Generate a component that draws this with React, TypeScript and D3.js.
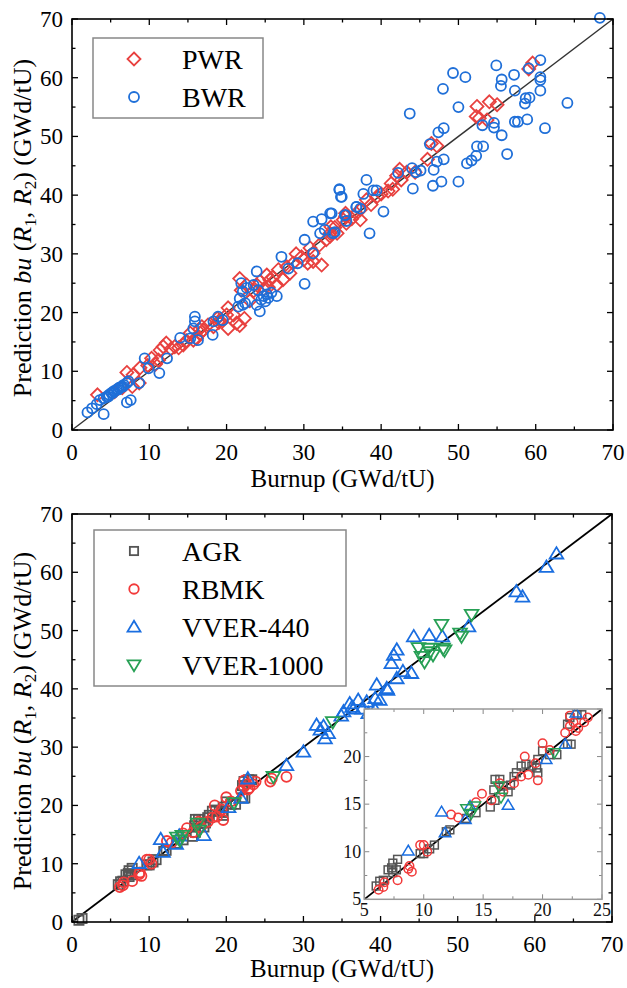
import React from "react";
import * as d3 from "d3";

// ---------- DATA ----------
const pwrX = [59.6,59.1,54.0,55.0,52.4,52.3,52.7,53.7,46.5,47.2,46.0,42.4,42.0,41.3,40.9,42.6,44.4,38.1,37.3,36.8,35.4,35.1,33.5,33.4,
  3.3,7.1,7.9,8.8,7.8,8.7,10.3,11.2,11.4,11.8,12.2,13.3,14.4,15.3,15.7,16.1,16.6,17.0,17.6,18.3,19.1,20.0,20.2,21.3,20.9,20.2,21.7,21.9,22.6,24.3,25.6,26.7,26.5,27.3,28.6,29.7,30.5,31.2,32.3,32.9,33.4,34.3,35.4,35.5,37.3,31.2,28.2,25.2,23.5,24.8,
  21.7,22.3,19.0,16.8,13.8,9.8,12.8,18.8,29.0,30.0,27.8,26.0,23.0,16.5,25.4,24.0,40.0,43.3,39.5,38.7,36.2,34.0,41.5,30.8,32.0,14.8,10.8,6.5,5.5];
const pwrY = [62.5,61.5,55.9,55.4,55.1,53.4,53.1,52.8,48.8,48.4,46.1,44.4,43.3,42.0,40.7,42.6,43.9,39.2,35.8,36.9,36.9,35.8,34.6,33.5,
  6.0,9.8,9.4,10.6,7.4,8.0,12.2,11.9,13.6,14.2,14.8,14.2,14.5,16.5,15.3,15.6,16.5,17.0,17.9,17.6,18.7,19.6,17.3,18.2,19.6,20.8,25.8,23.8,24.7,25.3,25.6,27.3,24.7,25.6,28.4,29.5,28.4,28.7,28.1,32.4,33.0,33.5,36.4,35.2,37.5,30.1,26.7,26.4,23.7,24.0,
  17.8,19.0,18.3,17.6,14.0,11.0,13.8,19.0,30.0,29.0,27.8,26.0,22.0,17.2,24.3,24.6,40.2,43.9,39.8,38.4,36.0,34.5,41.0,31.0,31.5,15.2,11.2,7.2,6.5];

const bwrX = [68.3,60.6,54.9,49.3,50.9,57.2,55.6,55.5,60.6,60.6,59.1,48.0,57.3,60.6,58.7,59.2,58.6,64.1,43.7,50.0,53.1,54.6,54.6,55.6,57.3,57.7,58.9,61.2,52.4,53.2,56.3,48.1,47.4,46.3,48.1,47.2,46.8,51.1,51.7,52.3,50.0,47.8,46.7,44.1,44.0,45.1,44.5,42.2,40.3,38.5,38.1,37.7,34.6,34.9,39.0,39.4,36.8,37.3,35.3,33.6,33.8,35.5,
  2.0,2.6,3.2,4.1,3.6,4.1,4.5,4.8,5.1,5.4,5.8,6.1,6.4,6.7,7.1,7.3,4.7,5.3,6.0,6.6,7.1,7.6,8.7,9.4,9.9,11.3,12.3,14.0,15.3,15.9,15.9,15.7,16.3,18.2,18.3,18.9,19.5,21.5,22.1,21.9,22.1,21.7,22.6,22.4,23.9,23.5,24.1,24.3,23.9,24.5,24.8,25.2,25.4,25.8,26.5,25.0,27.1,28.0,29.2,30.1,30.1,31.2,32.3,33.4,34.6,34.8,32.1,32.7,34.0,35.4,36.8,31.2];
const bwrY = [70.2,63.0,62.1,60.8,60.1,60.5,59.7,58.6,60.1,59.6,61.6,58.1,57.8,57.8,56.5,56.6,55.6,55.7,53.9,55.0,51.9,52.3,51.5,50.2,52.5,52.5,52.9,51.4,48.3,48.3,47.0,51.4,50.7,48.7,46.1,45.7,44.3,45.4,45.9,46.7,42.3,42.3,41.6,41.1,44.6,44.2,43.9,43.8,37.2,33.5,42.6,40.2,40.9,39.7,40.8,40.8,38.0,37.7,36.6,36.9,33.5,35.6,
  3.0,3.7,4.4,2.7,5.1,5.4,5.7,6.0,6.3,6.6,6.9,7.2,7.4,7.7,8.0,8.3,5.7,6.3,6.9,7.4,4.7,5.1,8.0,12.2,10.5,9.7,12.2,15.7,15.6,19.3,18.5,17.3,15.3,16.2,18.5,19.3,18.7,21.0,21.3,25.0,23.6,22.4,24.2,21.6,27.0,24.7,23.8,20.2,21.3,22.2,22.8,23.1,22.5,23.4,22.8,21.9,29.5,27.5,28.4,24.9,32.4,35.5,35.9,36.9,41.0,39.7,33.5,34.1,33.7,36.6,38.0,30.1];

const agrX = [0.9,1.3,6.0,6.3,6.6,7.0,7.3,7.4,7.8,7.7,7.4,9.7,10.0,10.5,10.9,11.9,12.2,13.6,14.4,15.6,16.0,15.9,16.0,16.4,16.7,17.1,17.3,17.6,17.8,18.2,18.6,19.1,19.5,19.6,19.6,20.0,20.6,21.2,22.1,22.4,22.1,22.3,23.3,22.9];
const agrY = [0.3,0.6,6.4,6.9,7.0,8.1,8.3,8.8,9.2,8.1,7.8,9.8,9.8,10.3,10.7,12.1,12.3,13.5,14.1,14.7,15.4,16.5,17.6,17.6,16.9,16.3,17.0,17.9,18.3,19.0,19.2,19.0,18.8,18.3,19.7,20.6,20.2,20.2,21.3,21.3,23.4,24.1,24.4,24.4];

const rbmkX = [6.2,6.6,6.7,7.8,8.7,8.8,9.0,9.7,10.0,10.3,12.3,12.9,14.4,14.9,15.7,16.4,16.7,17.6,18.2,18.5,18.8,19.4,19.6,20.0,20.6,21.9,22.3,22.3,22.6,23.0,23.5,23.8,22.8,25.7,25.9,27.8];
const rbmkY = [6.0,6.3,6.8,7.0,8.2,8.5,7.9,10.7,10.7,10.0,13.9,13.6,15.2,16.1,15.4,17.2,16.3,17.2,17.9,20.0,18.1,19.3,17.5,21.4,20.7,22.5,23.2,24.3,23.6,23.0,23.6,24.1,22.7,24.1,24.6,24.9];

const v440X = [8.7,11.5,11.8,13.5,13.9,17.1,20.3,21.9,22.8,27.8,30.0,31.7,32.2,32.8,33.2,32.6,34.9,36.3,35.2,36.0,36.5,37.1,37.6,38.2,38.4,39.3,39.9,39.3,39.5,40.8,40.9,41.4,41.7,42.1,42.9,42.1,44.0,44.3,46.3,48.0,51.4,57.6,58.4,61.5,62.8];
const v440Y = [10.1,14.2,12.0,13.4,14.8,14.9,19.7,21.3,24.6,26.9,29.2,33.8,33.0,31.5,32.4,33.6,35.4,36.9,36.1,37.5,36.6,38.1,36.6,37.8,35.8,38.4,38.1,36.4,40.7,40.1,39.8,44.4,45.8,46.7,43.0,41.8,42.7,49.0,49.2,49.0,50.7,56.7,55.8,60.9,63.2];

const v1000X = [13.6,14.0,14.3,16.3,16.5,21.0,26.1,33.8,44.9,45.3,45.7,46.4,46.2,46.8,48.1,47.9,48.3,50.3,50.5,51.8];
const v1000Y = [14.5,14.0,14.8,16.9,15.7,20.4,24.9,34.3,47.0,45.5,44.6,46.3,46.9,45.8,46.9,51.0,46.6,49.5,49.0,52.7];

const mainTicks = [0, 10, 20, 30, 40, 50, 60, 70];
const mainMinor = [5, 15, 25, 35, 45, 55, 65];
const insetTicks = [5, 10, 15, 20, 25];
const insetMinor = [7.5, 12.5, 17.5, 22.5];

const topLegend = ["PWR", "BWR"];
const bottomLegend = ["AGR", "RBMK", "VVER-440", "VVER-1000"];

// ---------- STYLE ----------
const FONT = "'Liberation Serif', 'Times New Roman', serif";
const C_PWR = "#e8413f";
const C_BWR = "#1f6fd8";
const C_AGR = "#555555";
const C_RBMK = "#f23a3a";
const C_440 = "#1a6ee0";
const C_1000 = "#27a055";

type Shape = "diamond" | "circle" | "square" | "up" | "down";

function Marker({ shape, x, y, color, s = 1, sw = 1.8 }: { shape: Shape; x: number; y: number; color: string; s?: number; sw?: number }) {
  const common = { fill: "none", stroke: color, strokeWidth: sw } as any;
  if (shape === "circle") return <circle cx={x} cy={y} r={5 * s} {...common} />;
  if (shape === "square") {
    const h = 4.6 * s;
    return <rect x={x - h} y={y - h} width={2 * h} height={2 * h} {...common} />;
  }
  if (shape === "diamond") {
    const h = 6.5 * s;
    return <path d={`M${x},${y - h}L${x + h},${y}L${x},${y + h}L${x - h},${y}Z`} {...common} />;
  }
  if (shape === "up") {
    const h = 6.5 * s;
    return <path d={`M${x},${y - h}L${x + h * 1.05},${y + h * 0.75}L${x - h * 1.05},${y + h * 0.75}Z`} {...common} />;
  }
  const h = 6.5 * s;
  return <path d={`M${x},${y + h}L${x + h * 1.05},${y - h * 0.75}L${x - h * 1.05},${y - h * 0.75}Z`} {...common} />;
}

function MainFrame({ x, y, labelSize = 23 }: { x: d3.ScaleLinear<number, number>; y: d3.ScaleLinear<number, number>; labelSize?: number }) {
  const [x0, x1] = x.range();
  const [y0, y1] = y.range();
  const maj = 6, mn = 3.5;
  const tickLines: any[] = [];
  mainTicks.concat(mainMinor).forEach((t, i) => {
    const L = mainTicks.includes(t) ? maj : mn;
    tickLines.push(<line key={"b" + i} x1={x(t)} x2={x(t)} y1={y0} y2={y0 - L} />);
    tickLines.push(<line key={"t" + i} x1={x(t)} x2={x(t)} y1={y1} y2={y1 + L} />);
    tickLines.push(<line key={"l" + i} x1={x0} x2={x0 + L} y1={y(t)} y2={y(t)} />);
    tickLines.push(<line key={"r" + i} x1={x1} x2={x1 - L} y1={y(t)} y2={y(t)} />);
  });
  return (
    <g>
      <g stroke="#000" strokeWidth={1.3}>{tickLines}</g>
      <rect x={x0} y={y1} width={x1 - x0} height={y0 - y1} fill="none" stroke="#000" strokeWidth={1.6} />
      <g fontFamily={FONT} fontSize={labelSize} fill="#000">
        {mainTicks.map((t) => (
          <text key={"xl" + t} x={x(t)} y={y0 + 30} textAnchor="middle">{t}</text>
        ))}
        {mainTicks.map((t) => (
          <text key={"yl" + t} x={x0 - 9} y={y(t) + 8} textAnchor="end">{t}</text>
        ))}
      </g>
    </g>
  );
}

function YTitle({ cx, cy }: { cx: number; cy: number }) {
  return (
    <text transform={`translate(${cx},${cy}) rotate(-90)`} textAnchor="middle" fontFamily={FONT} fontSize={26} fill="#000">
      <tspan>Prediction </tspan>
      <tspan fontStyle="italic">bu</tspan>
      <tspan> (</tspan>
      <tspan fontStyle="italic">R</tspan>
      <tspan fontSize={17} dy={5}>1</tspan>
      <tspan dy={-5}>, </tspan>
      <tspan fontStyle="italic">R</tspan>
      <tspan fontSize={17} dy={5}>2</tspan>
      <tspan dy={-5}>) (GWd/tU)</tspan>
    </text>
  );
}

export default function App() {
  // top chart scales
  const xT = d3.scaleLinear().domain([0, 70]).range([72, 613]);
  const yT = d3.scaleLinear().domain([0, 70]).range([430, 19]);
  // bottom chart scales
  const xB = d3.scaleLinear().domain([0, 70]).range([72, 612]);
  const yB = d3.scaleLinear().domain([0, 70]).range([922, 514]);
  // inset scales
  const xI = d3.scaleLinear().domain([5, 25]).range([364.3, 602]);
  const yI = d3.scaleLinear().domain([5, 25]).range([899.3, 709]);

  const line = d3.line<[number, number]>();
  const diag: [number, number][] = [[0, 0], [70, 70]];
  const diagI: [number, number][] = [[5, 5], [25, 25]];

  const series = [
    { name: bottomLegend[0], xs: agrX, ys: agrY, shape: "square" as Shape, color: C_AGR },
    { name: bottomLegend[1], xs: rbmkX, ys: rbmkY, shape: "circle" as Shape, color: C_RBMK },
    { name: bottomLegend[2], xs: v440X, ys: v440Y, shape: "up" as Shape, color: C_440 },
    { name: bottomLegend[3], xs: v1000X, ys: v1000Y, shape: "down" as Shape, color: C_1000 },
  ];

  const [ix0, ix1] = xI.range();
  const [iy0, iy1] = yI.range();
  const insetTickLines: any[] = [];
  insetTicks.concat(insetMinor).forEach((t, i) => {
    const L = insetTicks.includes(t) ? 5 : 3;
    insetTickLines.push(<line key={"ib" + i} x1={xI(t)} x2={xI(t)} y1={iy0} y2={iy0 - L} />);
    insetTickLines.push(<line key={"it" + i} x1={xI(t)} x2={xI(t)} y1={iy1} y2={iy1 + L} />);
    insetTickLines.push(<line key={"il" + i} x1={ix0} x2={ix0 + L} y1={yI(t)} y2={yI(t)} />);
    insetTickLines.push(<line key={"ir" + i} x1={ix1} x2={ix1 - L} y1={yI(t)} y2={yI(t)} />);
  });

  return (
    <svg width={627} height={988} style={{ position: "absolute", left: 0, top: 0, background: "#fff" }}>
      <rect x={0} y={0} width={627} height={988} fill="#fff" />
      <defs>
        <clipPath id="clipI"><rect x={ix0} y={iy1} width={ix1 - ix0} height={iy0 - iy1} /></clipPath>
      </defs>

      {/* ---------- TOP CHART ---------- */}
      <path d={line(diag.map(([a, b]) => [xT(a), yT(b)]))!} stroke="#333" strokeWidth={1.4} fill="none" />
      <g>
        {pwrX.map((v, i) => (
          <Marker key={"p" + i} shape="diamond" x={xT(v)} y={yT(pwrY[i])} color={C_PWR} />
        ))}
        {bwrX.map((v, i) => (
          <Marker key={"w" + i} shape="circle" x={xT(v)} y={yT(bwrY[i])} color={C_BWR} />
        ))}
      </g>
      <MainFrame x={xT} y={yT} />
      <text x={(72 + 613) / 2} y={487} textAnchor="middle" fontFamily={FONT} fontSize={25}>Burnup (GWd/tU)</text>
      <YTitle cx={31} cy={228} />
      {/* top legend */}
      <rect x={93} y={38} width={170} height={80} fill="#fff" stroke="#888" strokeWidth={1.5} />
      <Marker shape="diamond" x={134} y={59} color={C_PWR} />
      <Marker shape="circle" x={134} y={97} color={C_BWR} />
      <text x={182} y={69} fontFamily={FONT} fontSize={28}>{topLegend[0]}</text>
      <text x={182} y={107} fontFamily={FONT} fontSize={28}>{topLegend[1]}</text>

      {/* ---------- BOTTOM CHART ---------- */}
      <path d={line(diag.map(([a, b]) => [xB(a), yB(b)]))!} stroke="#000" strokeWidth={1.8} fill="none" />
      <g>
        {series.map((s) =>
          s.xs.map((v, i) => (
            <Marker key={s.name + i} shape={s.shape} x={xB(v)} y={yB(s.ys[i])} color={s.color} />
          ))
        )}
      </g>
      <MainFrame x={xB} y={yB} />
      <text x={(72 + 612) / 2} y={977} textAnchor="middle" fontFamily={FONT} fontSize={25}>Burnup (GWd/tU)</text>
      <YTitle cx={31} cy={721} />
      {/* bottom legend */}
      <rect x={94} y={530} width={252} height={156} fill="#fff" stroke="#888" strokeWidth={1.5} />
      {series.map((s, i) => (
        <g key={"lg" + i}>
          <Marker shape={s.shape} x={134} y={551 + i * 38} color={s.color} s={s.shape === "square" ? 0.9 : 0.95} />
          <text x={182} y={561 + i * 38} fontFamily={FONT} fontSize={28}>{s.name}</text>
        </g>
      ))}

      {/* ---------- INSET ---------- */}
      <rect x={ix0} y={iy1} width={ix1 - ix0} height={iy0 - iy1} fill="#fff" />
      <g clipPath="url(#clipI)">
        <path d={line(diagI.map(([a, b]) => [xI(a), yI(b)]))!} stroke="#000" strokeWidth={1.8} fill="none" />
        {series.map((s) =>
          s.xs.map((v, i) => (
            <Marker key={"in" + s.name + i} shape={s.shape} x={xI(v)} y={yI(s.ys[i])} color={s.color} s={0.85} sw={1.5} />
          ))
        )}
      </g>
      <g stroke="#888" strokeWidth={1}>{insetTickLines}</g>
      <rect x={ix0} y={iy1} width={ix1 - ix0} height={iy0 - iy1} fill="none" stroke="#999" strokeWidth={1.5} />
      <g fontFamily={FONT} fontSize={18} fill="#111">
        {insetTicks.map((t) => (
          <text key={"ixl" + t} x={xI(t)} y={916} textAnchor="middle">{t}</text>
        ))}
        {insetTicks.filter((t) => t < 25).map((t) => (
          <text key={"iyl" + t} x={ix0 - 3} y={yI(t) + 6} textAnchor="end">{t}</text>
        ))}
      </g>
    </svg>
  );
}
